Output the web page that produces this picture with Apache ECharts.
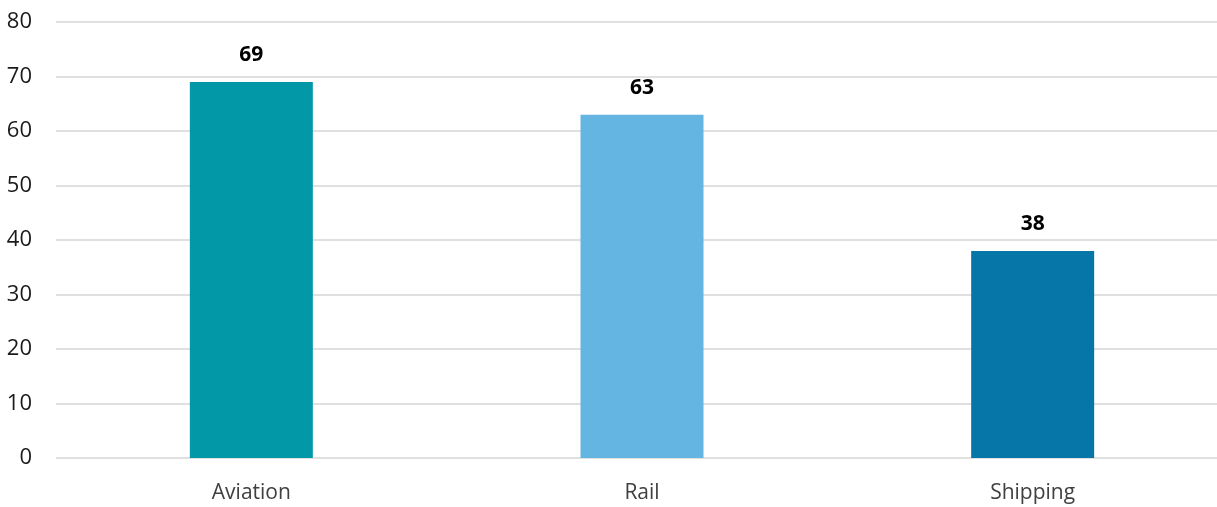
<!DOCTYPE html>
<html>
<head>
<meta charset="utf-8">
<script src="https://cdn.jsdelivr.net/npm/echarts@6/dist/echarts.min.js"></script>
<style>html,body{margin:0;padding:0;background:#fff;overflow:hidden;}#c{width:1217px;height:507px;}</style>
</head>
<body>
<div id="c"></div>
<script>
const categories = ['Aviation', 'Rail', 'Shipping'];
const values = [69, 63, 38];
const barColors = ['#0298A8', '#65B5E3', '#0675A8'];
const yTicks = [0, 10, 20, 30, 40, 50, 60, 70, 80];

const chart = echarts.init(document.getElementById('c'), null, {renderer: 'canvas'});
chart.setOption({
  animation: false,
  grid: {left: 56, width: 1172, top: 22, bottom: 49, containLabel: false, outerBoundsMode: 'none'},
  xAxis: {
    type: 'category',
    data: categories,
    axisLine: {show: false},
    axisTick: {show: false},
    axisLabel: {fontFamily: 'Open Sans', fontSize: 21, color: '#404040', margin: 25}
  },
  yAxis: {
    type: 'value',
    min: yTicks[0], max: yTicks[yTicks.length - 1], interval: 10,
    axisLine: {show: false},
    axisTick: {show: false},
    axisLabel: {fontFamily: 'Open Sans', fontSize: 22, color: '#1a1a1a', margin: 24},
    splitLine: {lineStyle: {color: '#e0e0e0', width: 2}}
  },
  series: [{
    type: 'bar',
    barWidth: 123,
    data: values.map((v, i) => ({value: v, itemStyle: {color: barColors[i]}})),
    label: {show: true, position: 'top', distance: 16, fontFamily: 'Open Sans', fontSize: 21, fontWeight: 'bold', color: '#000'}
  }]
});
</script>
</body>
</html>
